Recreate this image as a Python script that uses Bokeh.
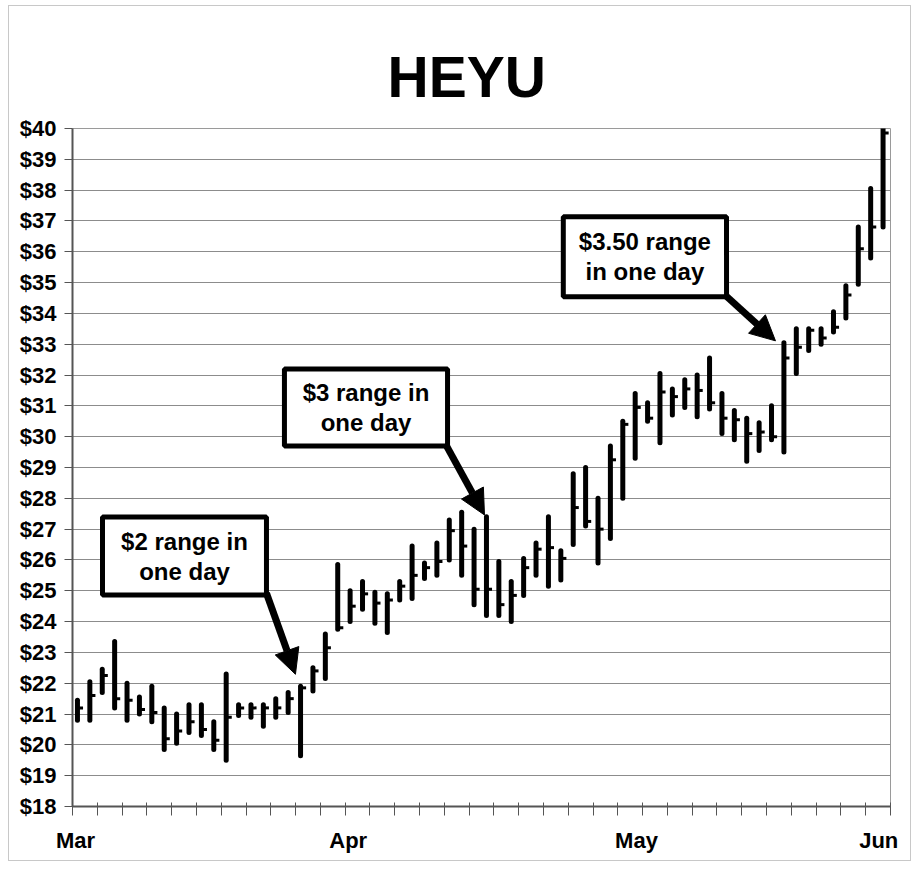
from bokeh.plotting import figure
from bokeh.models import (Range1d, FixedTicker, Label, BoxAnnotation, Arrow,
                          NormalHead, ColumnDataSource)
from bokeh.embed import file_html
from bokeh.resources import INLINE

# ---- data ----
highs = [21.45, 22.05, 22.45, 23.35, 22.0, 21.55, 21.9, 21.2, 21.0, 21.3,
         21.3, 20.75, 22.3, 21.3, 21.3, 21.3, 21.5, 21.7, 21.9, 22.5,
         23.6, 25.85, 25.0, 25.3, 24.95, 24.9, 25.3, 26.45, 25.9, 26.55,
         27.3, 27.55, 27.0, 27.4, 25.95, 25.3, 26.05, 26.55, 27.4, 26.3,
         28.8, 29.0, 28.0, 29.7, 30.5, 31.4, 31.1, 32.05, 31.55, 31.85,
         32.0, 32.55, 31.4, 30.85, 30.6, 30.45, 31.0, 33.05, 33.5, 33.5,
         33.5, 34.05, 34.9, 36.8, 38.05, 40.0]
lows = [20.8, 20.8, 21.7, 21.2, 20.8, 21.0, 20.75, 19.85, 20.05, 20.4,
        20.3, 19.85, 19.5, 20.95, 20.9, 20.6, 20.9, 21.05, 19.65, 21.75,
        22.15, 23.75, 24.0, 24.4, 23.95, 23.65, 24.7, 24.75, 25.4, 25.5,
        26.0, 25.5, 24.55, 24.2, 24.2, 24.0, 24.85, 25.5, 25.15, 25.35,
        26.5, 27.1, 25.9, 26.7, 28.0, 29.3, 30.5, 29.8, 30.7, 30.95,
        30.65, 30.9, 30.1, 29.9, 29.2, 29.55, 29.9, 29.5, 32.05, 32.8,
        33.0, 33.4, 33.85, 34.95, 35.8, 36.8]
closes = [21.2, 21.6, 22.25, 21.5, 21.45, 21.15, 21.05, 20.2, 20.45, 20.75,
          20.5, 20.15, 20.9, 21.2, 21.2, 21.2, 21.2, 21.5, 21.85, 22.4,
          23.15, 23.8, 24.5, 24.9, 24.6, 24.7, 25.15, 25.5, 25.75, 25.95,
          26.95, 26.45, 25.05, 25.05, 24.55, 24.85, 25.75, 26.35, 26.4, 26.05,
          27.7, 27.25, 27.0, 29.25, 30.4, 30.95, 30.6, 31.45, 31.3, 31.55,
          31.5, 31.1, 30.6, 30.55, 30.1, 30.15, 30.0, 32.55, 32.9, 33.45,
          33.2, 33.55, 34.6, 36.1, 36.8, 39.85]

month_labels = ["Mar", "Apr", "May", "Jun"]
month_ticks = [0, 22, 46, 66]          # half-day slots along the axis
y_ticks = list(range(18, 41))
y_tick_labels = ["$" + str(v) for v in y_ticks]

title_text = "HEYU"
notes = ["$2 range in\none day", "$3 range in\none day", "$3.50 range\nin one day"]

FONT = "Liberation Sans"
NB = "\u00a0"

n = len(highs)
xs = [i + 0.4 for i in range(n)]
src = ColumnDataSource(dict(x=xs, hi=highs, lo=lows, cl=closes,
                            xr=[v + 0.45 for v in xs]))

p = figure(width=903, height=856, output_backend="svg", toolbar_location=None,
           x_range=Range1d(0, 66), y_range=Range1d(18, 40),
           min_border_left=63, min_border_right=22, min_border_top=122,
           min_border_bottom=56, background_fill_color="white",
           border_fill_color="white", title=title_text)
p.styles = {"margin": "5px 0 0 8px", "border": "1px solid #c8c8c8"}
p.outline_line_color = "#9a9a9a"
p.outline_line_width = 1

p.title.align = "left"
p.title.offset = 315
p.title.text_font = FONT
p.title.text_font_style = "bold"
p.title.text_font_size = "57px"
p.title.text_color = "black"
p.title.standoff = 40

# grid
p.xgrid.grid_line_color = None
p.ygrid.grid_line_color = "#8c8c8c"
p.ygrid.grid_line_width = 1

# axes
p.yaxis.ticker = FixedTicker(ticks=y_ticks, minor_ticks=[])
p.yaxis.major_label_overrides = {t: lab for t, lab in zip(y_ticks, y_tick_labels)}
xt = list(range(0, 67, 2))
p.xaxis.ticker = FixedTicker(ticks=xt, minor_ticks=[])
ov = {t: "" for t in xt}
# small visual nudges of the label positions (non-breaking padding)
pads = {"Mar": (NB, ""), "Apr": (NB, ""), "May": ("", NB * 2), "Jun": ("", NB * 2)}
for t, lab in zip(month_ticks, month_labels):
    pre, post = pads.get(lab, ("", ""))
    ov[t] = pre + lab + post
p.xaxis.major_label_overrides = ov

for ax in (p.xaxis[0], p.yaxis[0]):
    ax.axis_line_color = "#555555"
    ax.axis_line_width = 2
    ax.major_tick_line_color = "#555555"
    ax.major_tick_line_width = 1
    ax.minor_tick_line_color = None
    ax.major_label_text_font = FONT
    ax.major_label_text_font_style = "bold"
    ax.major_label_text_font_size = "22px"
    ax.major_label_text_color = "black"
p.yaxis.major_tick_in = 0
p.yaxis.major_tick_out = 8
p.yaxis.major_label_standoff = 8
p.xaxis.major_tick_in = 4
p.xaxis.major_tick_out = 9
p.xaxis.major_label_standoff = 12

# high-low bars and close ticks
p.segment(x0="x", y0="lo", x1="x", y1="hi", source=src, line_color="black",
          line_width=5, line_cap="round")
p.segment(x0="x", y0="cl", x1="xr", y1="cl", source=src, line_color="black",
          line_width=3)

# annotation boxes: (left, right, top, bottom)
boxes = [(2.42, 15.65, 27.39, 24.86), (17.1, 30.26, 32.2, 29.7),
         (39.6, 52.77, 37.14, 34.54)]
arrows = [((15.65, 24.92), (17.99, 22.29)), ((30.1, 29.76), (33.24, 27.46)),
          ((52.45, 34.67), (56.72, 33.11))]

for (l, r, t, b), txt, ((xa, ya), (xb, yb)) in zip(boxes, notes, arrows):
    p.add_layout(Arrow(end=NormalHead(size=25, fill_color="black",
                                      line_color="black", line_width=1),
                       x_start=xa, y_start=ya, x_end=xb, y_end=yb,
                       line_color="black", line_width=7))
    p.add_layout(BoxAnnotation(left=l, right=r, top=t, bottom=b,
                               fill_color="white", fill_alpha=1.0,
                               line_color="black", line_width=5, line_alpha=1.0))
    cx = (l + r) / 2
    cy = (t + b) / 2
    l1, l2 = txt.split("\n")
    for s, yy in ((l1, cy + 0.49), (l2, cy - 0.49)):
        p.add_layout(Label(x=cx, y=yy, text=s, text_align="center",
                           text_baseline="middle", text_font=FONT,
                           text_font_style="bold", text_font_size="24px",
                           text_color="black"))

open("out.html", "w").write(file_html(p, INLINE))
